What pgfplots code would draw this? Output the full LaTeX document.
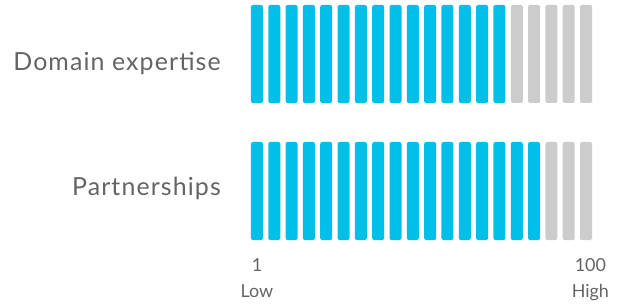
\documentclass[border=0pt]{standalone}
\usepackage{pgfplots}
\pgfplotsset{compat=1.18}
\usepackage{fontspec}
\setmainfont{Lato}
\definecolor{segblue}{RGB}{0,192,232}
\definecolor{seggray}{RGB}{204,204,204}
\definecolor{txt}{RGB}{100,100,100}
\pgfplotsset{segaxis/.style={
  scale only axis, width=346.4bp, height=98bp,
  xmin=0.5, xmax=20.5, ymin=0, ymax=1,
  ybar, bar width=12bp, bar shift=0pt,
  axis line style={draw=none}, tick style={draw=none}, major tick length=0pt,
  ytick={0.5},
  clip=false,
}}
\begin{document}
\begin{tikzpicture}
\path[use as bounding box] (0bp,0bp) rectangle (627bp,304bp);
% Domain expertise: 75 of 100 -> 15 of 20 segments
\begin{axis}[segaxis, at={(248.3bp,201bp)}, anchor=south west,
  xtick=\empty,
  yticklabels={Domain expertise},
  yticklabel style={font=\fontsize{25}{29}\selectfont\addfontfeature{LetterSpace=4.5}, text=txt, xshift=-24bp, yshift=-10bp}]
\addplot[fill=segblue, draw=none, rounded corners=2bp] coordinates {
(1,1) (2,1) (3,1) (4,1) (5,1) (6,1) (7,1) (8,1) (9,1) (10,1)
(11,1) (12,1) (13,1) (14,1) (15,1)};
\addplot[fill=seggray, draw=none, rounded corners=2bp] coordinates {
(16,1) (17,1) (18,1) (19,1) (20,1)};
\end{axis}
% Partnerships: 85 of 100 -> 17 of 20 segments
\begin{axis}[segaxis, at={(248.3bp,64bp)}, anchor=south west,
  xtick={1,20.25}, xticklabels={1\\Low,100\\High},
  xticklabel style={align=center, font=\fontsize{18}{26}\selectfont, text=txt, yshift=-15bp},
  yticklabels={Partnerships},
  yticklabel style={font=\fontsize{25}{29}\selectfont\addfontfeature{LetterSpace=4.5}, text=txt, xshift=-24bp, yshift=3bp}]
\addplot[fill=segblue, draw=none, rounded corners=2bp] coordinates {
(1,1) (2,1) (3,1) (4,1) (5,1) (6,1) (7,1) (8,1) (9,1) (10,1)
(11,1) (12,1) (13,1) (14,1) (15,1) (16,1) (17,1)};
\addplot[fill=seggray, draw=none, rounded corners=2bp] coordinates {
(18,1) (19,1) (20,1)};
\end{axis}
\end{tikzpicture}
\end{document}
